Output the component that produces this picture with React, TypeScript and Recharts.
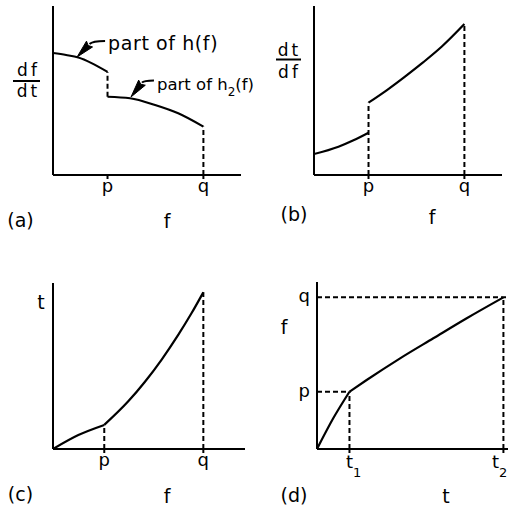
import React from 'react';
import { LineChart, Line, XAxis, YAxis, ReferenceLine } from 'recharts';

const FONT = "'DejaVu Sans', sans-serif";
const INK = '#000';

type Pt = { x: number; y: number };

// ---------- Panel (a): df/dt against f ----------
const aCurve1: Pt[] = [
  { x: 0, y: 7.22 }, { x: 0.7, y: 7.1 }, { x: 1.35, y: 6.95 }, { x: 2.05, y: 6.62 }, { x: 2.9, y: 6.1 },
];
const aCurve2: Pt[] = [
  { x: 2.9, y: 4.63 }, { x: 4.1, y: 4.54 }, { x: 5.43, y: 4.14 }, { x: 6.66, y: 3.65 }, { x: 8.0, y: 2.86 },
];
const aTickValues = [2.9, 8.0];
const aTickLabels = ['p', 'q'];
const aGuides: Pt[][] = [
  [{ x: 2.9, y: 4.63 }, { x: 2.9, y: 6.1 }],
  [{ x: 8.0, y: 0 }, { x: 8.0, y: 2.86 }],
];
const aArrowTails: Pt[] = [{ x: 2.77, y: 7.93 }, { x: 5.37, y: 5.59 }];
const aArrowHeads: Pt[] = [{ x: 1.28, y: 6.98 }, { x: 4.15, y: 4.62 }];
const aArrowTexts = ['part of h_(f)', 'part of h_2_(f)'];

// ---------- Panel (b): dt/df against f ----------
const bCurve1: Pt[] = [
  { x: 0, y: 1.24 }, { x: 1.3, y: 1.67 }, { x: 2.1, y: 2.05 }, { x: 2.9, y: 2.5 },
];
const bCurve2: Pt[] = [
  { x: 2.9, y: 4.28 }, { x: 3.9, y: 5.04 }, { x: 4.84, y: 5.82 }, { x: 5.8, y: 6.66 },
  { x: 6.8, y: 7.6 }, { x: 8.0, y: 8.93 },
];
const bTickValues = [2.9, 8.0];
const bTickLabels = ['p', 'q'];
const bGuides: Pt[][] = [
  [{ x: 2.9, y: 0 }, { x: 2.9, y: 4.28 }],
  [{ x: 8.0, y: 0 }, { x: 8.0, y: 8.93 }],
];

// ---------- Panel (c): t against f ----------
const cCurve1: Pt[] = [{ x: 0, y: 0 }, { x: 1.32, y: 0.84 }, { x: 2.67, y: 1.45 }];
const cCurve2: Pt[] = [
  { x: 2.67, y: 1.45 }, { x: 3.92, y: 2.87 }, { x: 4.79, y: 4.05 }, { x: 5.66, y: 5.39 },
  { x: 6.53, y: 6.89 }, { x: 7.22, y: 8.19 }, { x: 7.83, y: 9.44 },
];
const cTickValues = [2.67, 7.83];
const cTickLabels = ['p', 'q'];
const cGuides: Pt[][] = [
  [{ x: 2.67, y: 0 }, { x: 2.67, y: 1.45 }],
  [{ x: 7.83, y: 0 }, { x: 7.83, y: 9.44 }],
];

// ---------- Panel (d): f against t ----------
const dCurve1: Pt[] = [{ x: 0, y: 0 }, { x: 0.85, y: 1.84 }, { x: 1.7, y: 3.43 }];
const dCurve2: Pt[] = [
  { x: 1.7, y: 3.43 }, { x: 2.6, y: 4.13 }, { x: 4.35, y: 5.43 }, { x: 6.09, y: 6.63 },
  { x: 7.84, y: 7.83 }, { x: 9.76, y: 9.08 },
];
const dXTickValues = [1.7, 9.76];
const dXTickLabels = ['t_1', 't_2'];
const dYTickValues = [3.43, 9.08];
const dYTickLabels = ['p', 'q'];
const dGuides: Pt[][] = [
  [{ x: 0, y: 9.08 }, { x: 10, y: 9.08 }],
  [{ x: 9.76, y: 0 }, { x: 9.76, y: 9.08 }],
  [{ x: 0, y: 3.43 }, { x: 1.7, y: 3.43 }],
  [{ x: 1.7, y: 0 }, { x: 1.7, y: 3.43 }],
];

// label nudges (style only)
const dXTickNudge = [0, -8];

const axisStyle = { stroke: INK, strokeWidth: 2 };

const makeTick = (
  values: number[],
  labels: string[],
  nudges: number[],
  dy: number,
  anchor: string,
  fontSize: number,
) =>
  (props: any) => {
    const { x, y, payload } = props;
    const idx = values.findIndex((v) => Math.abs(v - payload.value) < 1e-6);
    const lab = idx >= 0 ? labels[idx] : '';
    const dx = idx >= 0 ? nudges[idx] ?? 0 : 0;
    const [main, sub] = lab.split('_');
    return (
      <g>
        <text x={x + dx} y={y + dy} textAnchor={anchor} fontFamily={FONT} fontSize={fontSize} fill={INK}>
          {main}
        </text>
        {sub ? (
          <text x={x + dx + 3.5} y={y + dy + 9} textAnchor="start" fontFamily={FONT} fontSize={13} fill={INK}>
            {sub}
          </text>
        ) : null}
      </g>
    );
  };

const makeArrow = (label: string, fontSize: number) => (props: any) => {
  const { x1, y1, x2, y2 } = props;
  const cx = x1 + (x2 - x1) * 0.45;
  const cy = y1;
  const ddx = x2 - cx;
  const ddy = y2 - cy;
  const len = Math.hypot(ddx, ddy) || 1;
  const ux = ddx / len;
  const uy = ddy / len;
  const L = 18;
  const hw = 4.2;
  const bx = x2 - ux * L;
  const by = y2 - uy * L;
  const nx = -uy;
  const ny = ux;
  const parts = label.split('_');
  return (
    <g>
      <path d={`M${x1},${y1} Q${cx},${cy} ${bx},${by}`} stroke={INK} strokeWidth={2} fill="none" />
      <path
        d={`M${x2},${y2} L${bx + nx * hw},${by + ny * hw} L${bx + ux * 2},${by + uy * 2} L${bx - nx * hw},${by - ny * hw} Z`}
        fill={INK}
        stroke={INK}
        strokeWidth={1}
        strokeLinejoin="round"
      />
      <text x={x1 + 3} y={y1 + 9} fontFamily={FONT} fontSize={fontSize} fill={INK} letterSpacing={parts.length > 2 ? 0 : 0.6}>
        {parts.length > 2 ? (
          <>
            {parts[0]}
            <tspan fontSize={12} dy={6}>{parts[1]}</tspan>
            <tspan dy={-6}>{parts[2]}</tspan>
          </>
        ) : (
          parts.join('')
        )}
      </text>
    </g>
  );
};

type PanelProps = {
  left: number;
  top: number;
  width: number;
  height: number;
  margin: { top: number; right: number; bottom: number; left: number };
  curves: Pt[][];
  guides: Pt[][];
  xTickValues: number[];
  xTickLabels: string[];
  xTickNudges?: number[];
  xTickDy: number;
  yTickValues?: number[];
  yTickLabels?: string[];
  arrowTails?: Pt[];
  arrowHeads?: Pt[];
  arrowTexts?: string[];
};

function Panel(p: PanelProps) {
  const m = { ...p.margin, left: p.margin.left - 1, bottom: p.margin.bottom - 1 };
  return (
    <div style={{ position: 'absolute', left: p.left, top: p.top }}>
      <LineChart width={p.width} height={p.height} margin={m}>
        <XAxis
          type="number"
          dataKey="x"
          domain={[0, 10]}
          allowDataOverflow
          ticks={p.xTickValues}
          interval={0}
          height={1}
          tickSize={4}
          tickMargin={2}
          axisLine={axisStyle}
          tickLine={axisStyle}
          tick={makeTick(p.xTickValues, p.xTickLabels, p.xTickNudges ?? [], p.xTickDy, 'middle', 18)}
        />
        <YAxis
          type="number"
          dataKey="y"
          domain={[0, 10]}
          allowDataOverflow
          width={1}
          ticks={p.yTickValues ?? []}
          interval={0}
          tickSize={0}
          tickMargin={7}
          axisLine={axisStyle}
          tickLine={false}
          tick={p.yTickValues ? makeTick(p.yTickValues, p.yTickLabels ?? [], [], 5, 'end', 18) : false}
        />
        {p.guides.map((g, i) => (
          <ReferenceLine
            key={`g${i}`}
            segment={[{ x: g[0].x, y: g[0].y }, { x: g[1].x, y: g[1].y }]}
            stroke={INK}
            strokeWidth={2}
            strokeDasharray="5 3"
            ifOverflow="visible"
          />
        ))}
        {p.curves.map((c, i) => (
          <Line
            key={`c${i}`}
            data={c}
            dataKey="y"
            type="monotone"
            stroke={INK}
            strokeWidth={2.2}
            dot={false}
            activeDot={false}
            isAnimationActive={false}
          />
        ))}
        {(p.arrowTails ?? []).map((t, i) => (
          <ReferenceLine
            key={`a${i}`}
            segment={[{ x: t.x, y: t.y }, { x: p.arrowHeads![i].x, y: p.arrowHeads![i].y }]}
            ifOverflow="visible"
            shape={makeArrow(p.arrowTexts![i], i === 0 ? 19 : 16.5)}
          />
        ))}
      </LineChart>
    </div>
  );
}

const txt = { fontFamily: FONT, fill: INK } as const;

export default function App() {
  return (
    <div style={{ position: 'absolute', left: 0, top: 0, width: 508, height: 507, background: '#fff', overflow: 'hidden' }}>
      <Panel
        left={0}
        top={0}
        width={254}
        height={254}
        margin={{ top: 6, right: 13, bottom: 79, left: 53 }}
        curves={[aCurve1, aCurve2]}
        guides={aGuides}
        xTickValues={aTickValues}
        xTickLabels={aTickLabels}
        xTickDy={11}
        arrowTails={aArrowTails}
        arrowHeads={aArrowHeads}
        arrowTexts={aArrowTexts}
      />
      <Panel
        left={254}
        top={0}
        width={254}
        height={254}
        margin={{ top: 6, right: 6, bottom: 79, left: 60 }}
        curves={[bCurve1, bCurve2]}
        guides={bGuides}
        xTickValues={bTickValues}
        xTickLabels={bTickLabels}
        xTickDy={11}
      />
      <Panel
        left={0}
        top={254}
        width={254}
        height={253}
        margin={{ top: 29, right: 9, bottom: 58, left: 53 }}
        curves={[cCurve1, cCurve2]}
        guides={cGuides}
        xTickValues={cTickValues}
        xTickLabels={cTickLabels}
        xTickDy={11}
      />
      <Panel
        left={254}
        top={254}
        width={254}
        height={253}
        margin={{ top: 28, right: 0, bottom: 58, left: 63 }}
        curves={[dCurve1, dCurve2]}
        guides={dGuides}
        xTickValues={dXTickValues}
        xTickLabels={dXTickLabels}
        xTickNudges={dXTickNudge}
        xTickDy={13}
        yTickValues={dYTickValues}
        yTickLabels={dYTickLabels}
      />
      <svg width={508} height={507} style={{ position: 'absolute', left: 0, top: 0, pointerEvents: 'none' }}>
        {/* panel (a) */}
        <text x={20.5} y={227} textAnchor="middle" fontSize={19} {...txt}>(a)</text>
        <text x={167} y={228} textAnchor="middle" fontSize={19} {...txt}>f</text>
        <text x={28.5} y={76} textAnchor="middle" fontSize={17} letterSpacing={3} {...txt}>df</text>
        <line x1={13} x2={40} y1={81} y2={81} stroke={INK} strokeWidth={2} />
        <text x={28.5} y={97} textAnchor="middle" fontSize={17} letterSpacing={3} {...txt}>dt</text>
        {/* panel (b) */}
        <text x={294} y={221} textAnchor="middle" fontSize={19} {...txt}>(b)</text>
        <text x={432} y={224} textAnchor="middle" fontSize={19} {...txt}>f</text>
        <text x={289.5} y={56} textAnchor="middle" fontSize={17} letterSpacing={3} {...txt}>dt</text>
        <line x1={276} x2={301} y1={59.5} y2={59.5} stroke={INK} strokeWidth={2} />
        <text x={289.5} y={78} textAnchor="middle" fontSize={17} letterSpacing={3} {...txt}>df</text>
        {/* panel (c) */}
        <text x={20.5} y={501} textAnchor="middle" fontSize={19} {...txt}>(c)</text>
        <text x={167} y={503} textAnchor="middle" fontSize={19} {...txt}>f</text>
        <text x={41} y={309} textAnchor="middle" fontSize={19} {...txt}>t</text>
        {/* panel (d) */}
        <text x={294} y={502} textAnchor="middle" fontSize={19} {...txt}>(d)</text>
        <text x={446} y={503} textAnchor="middle" fontSize={19} {...txt}>t</text>
        <text x={284} y={334} textAnchor="middle" fontSize={19} {...txt}>f</text>
      </svg>
    </div>
  );
}
